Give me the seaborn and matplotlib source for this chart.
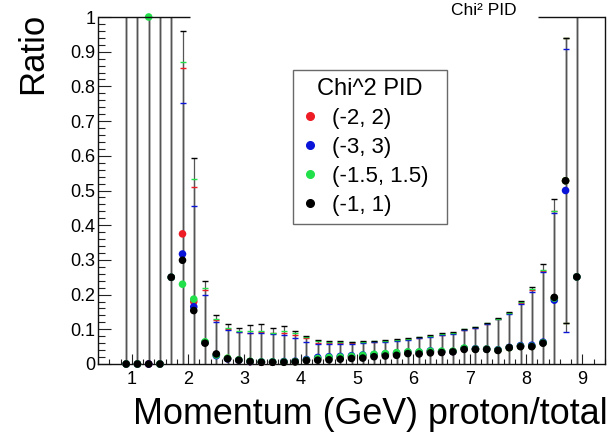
import numpy as np
import pandas as pd
import matplotlib
matplotlib.use("Agg")
import matplotlib.pyplot as plt
from matplotlib.lines import Line2D
from matplotlib.ticker import MultipleLocator, FixedLocator, FixedFormatter
import seaborn as sns

# ---------------- data ----------------
momentum = [0.9, 1.1, 1.3, 1.5, 1.7, 1.9, 2.1, 2.3, 2.5, 2.7, 2.9, 3.1, 3.3, 3.5,
            3.7, 3.9, 4.1, 4.3, 4.5, 4.7, 4.9, 5.1, 5.3, 5.5, 5.7, 5.9, 6.1, 6.3,
            6.5, 6.7, 6.9, 7.1, 7.3, 7.5, 7.7, 7.9, 8.1, 8.3, 8.5, 8.7, 8.9]

series_names = ["(-2, 2)", "(-3, 3)", "(-1.5, 1.5)", "(-1, 1)"]
series_colors = ["#ee1c25", "#0a14d8", "#22e04a", "#000000"]

ratio_2 = [0, 0, 0, 0, 0.25, 0.375, 0.18, 0.062, 0.027, 0.016, 0.011, 0.007, 0.005, 0.005,
           0.006, 0.007, 0.011, 0.015, 0.017, 0.018, 0.020, 0.022, 0.025, 0.027, 0.029, 0.033,
           0.032, 0.035, 0.035, 0.036, 0.044, 0.043, 0.043, 0.040, 0.047, 0.051, 0.051, 0.061,
           0.190, 0.528, 0.251]
ratio_3 = [0, 0, 0, 0, 0.25, 0.317, 0.165, 0.062, 0.024, 0.015, 0.011, 0.007, 0.006, 0.006,
           0.007, 0.008, 0.013, 0.019, 0.021, 0.022, 0.024, 0.026, 0.027, 0.029, 0.031, 0.034,
           0.034, 0.038, 0.036, 0.036, 0.045, 0.044, 0.043, 0.041, 0.048, 0.053, 0.054, 0.063,
           0.184, 0.500, 0.251]
ratio_15 = [0, 0, 1.0, 0, 0.25, 0.230, 0.187, 0.064, 0.026, 0.017, 0.012, 0.008, 0.006, 0.006,
            0.006, 0.007, 0.011, 0.016, 0.019, 0.020, 0.022, 0.025, 0.028, 0.030, 0.033, 0.035,
            0.035, 0.037, 0.037, 0.037, 0.046, 0.043, 0.043, 0.040, 0.047, 0.051, 0.051, 0.061,
            0.190, 0.528, 0.251]
ratio_1 = [0, 0, 0, 0, 0.25, 0.299, 0.154, 0.060, 0.029, 0.015, 0.011, 0.007, 0.005, 0.005,
           0.005, 0.006, 0.010, 0.011, 0.012, 0.014, 0.016, 0.017, 0.021, 0.023, 0.025, 0.030,
           0.029, 0.032, 0.033, 0.035, 0.042, 0.042, 0.042, 0.039, 0.047, 0.050, 0.050, 0.060,
           0.192, 0.528, 0.251]

# upper / lower ends of the error bars
upper_2 = [1, 1, 1, 1, 1, 0.854, 0.510, 0.213, 0.127, 0.100, 0.093, 0.090, 0.092, 0.088,
           0.090, 0.085, 0.074, 0.061, 0.060, 0.060, 0.060, 0.062, 0.063, 0.065, 0.068, 0.071,
           0.075, 0.080, 0.085, 0.088, 0.098, 0.104, 0.115, 0.130, 0.146, 0.175, 0.212, 0.268,
           0.440, 0.940, 1]
upper_3 = [1, 1, 1, 1, 1, 0.751, 0.456, 0.200, 0.122, 0.097, 0.092, 0.088, 0.090, 0.087,
           0.085, 0.074, 0.063, 0.058, 0.058, 0.058, 0.058, 0.060, 0.062, 0.064, 0.067, 0.070,
           0.074, 0.079, 0.084, 0.087, 0.097, 0.103, 0.114, 0.130, 0.145, 0.173, 0.208, 0.264,
           0.434, 0.908, 1]
upper_15 = [1, 1, 1, 1, 1, 0.869, 0.532, 0.218, 0.130, 0.104, 0.095, 0.095, 0.094, 0.090,
            0.096, 0.088, 0.078, 0.066, 0.063, 0.063, 0.062, 0.064, 0.065, 0.067, 0.070, 0.073,
            0.077, 0.082, 0.087, 0.090, 0.100, 0.106, 0.117, 0.131, 0.148, 0.178, 0.215, 0.270,
            0.440, 0.940, 1]
upper_1 = [1, 1, 1, 1, 1, 0.960, 0.593, 0.240, 0.141, 0.115, 0.103, 0.111, 0.114, 0.104,
           0.110, 0.096, 0.082, 0.069, 0.066, 0.066, 0.063, 0.066, 0.066, 0.069, 0.071, 0.074,
           0.078, 0.083, 0.088, 0.091, 0.102, 0.108, 0.119, 0.134, 0.151, 0.182, 0.223, 0.287,
           0.475, 0.940, 1]
lower_2 = [0] * 39 + [0.117, 0]
lower_3 = [0] * 39 + [0.092, 0]
lower_15 = [0] * 39 + [0.117, 0]
lower_1 = [0] * 39 + [0.117, 0]

ytick_values = [0, 0.1, 0.2, 0.3, 0.4, 0.5, 0.6, 0.7, 0.8, 0.9, 1.0]
ytick_labels = ["0", "0.1", "0.2", "0.3", "0.4", "0.5", "0.6", "0.7", "0.8", "0.9", "1"]
xtick_values = [1, 2, 3, 4, 5, 6, 7, 8, 9]
xtick_labels = ["1", "2", "3", "4", "5", "6", "7", "8", "9"]
frame_top_segments = [(0.4, 2.03), (8.21, 9.4)]

values = [ratio_2, ratio_3, ratio_15, ratio_1]
uppers = [upper_2, upper_3, upper_15, upper_1]
lowers = [lower_2, lower_3, lower_15, lower_1]

rows = []
for name, v, u, l in zip(series_names, values, uppers, lowers):
    for x, yv, yu, yl in zip(momentum, v, u, l):
        rows.append({"momentum": x, "ratio": yv, "hi": yu, "lo": yl, "series": name})
df = pd.DataFrame(rows)

# ---------------- plot ----------------
sns.set_theme(style="white")
plt.rcParams["font.family"] = ["Liberation Sans", "DejaVu Sans"]
plt.rcParams["text.color"] = "black"
plt.rcParams["xtick.color"] = "black"
plt.rcParams["ytick.color"] = "black"
plt.rcParams["axes.labelcolor"] = "black"

W, H = 615, 433
fig = plt.figure(figsize=(W / 100, H / 100), dpi=100)
ax = fig.add_axes([98 / W, 1 - 364 / H, (605 - 98) / W, (364 - 17) / H])

palette = dict(zip(series_names, series_colors))

for name in series_names:
    sub = df[df.series == name]
    ax.vlines(sub.momentum, sub.lo, sub.hi, color="#555555", lw=0.9, zorder=1)
for name in series_names:
    sub = df[df.series == name]
    up = sub[sub.hi < 1]
    ax.plot(up.momentum, up.hi, ls="none", marker="_", ms=5, mew=1.0,
            color=palette[name], zorder=2)
    lo = sub[sub.lo > 0]
    ax.plot(lo.momentum, lo.lo, ls="none", marker="_", ms=5, mew=1.0,
            color=palette[name], zorder=2)

sns.scatterplot(data=df, x="momentum", y="ratio", hue="series", hue_order=series_names,
                palette=palette, s=30, linewidth=0, ax=ax, legend=False,
                clip_on=False, zorder=3)

ax.set_xlim(0.4, 9.4)
ax.set_ylim(0, 1)
ax.set_xlabel("")
ax.set_ylabel("")

for side in ["left", "bottom", "right"]:
    ax.spines[side].set_visible(True)
    ax.spines[side].set_color("#111111")
    ax.spines[side].set_linewidth(1.0)
ax.spines["top"].set_visible(False)
for x0, x1 in frame_top_segments:
    ax.hlines(1.0, x0, x1, color="#111111", lw=1.0, clip_on=False, zorder=4)

ax.yaxis.set_major_locator(FixedLocator(ytick_values))
ax.yaxis.set_major_formatter(FixedFormatter(ytick_labels))
ax.yaxis.set_minor_locator(MultipleLocator(0.02))
ax.xaxis.set_major_locator(FixedLocator(xtick_values))
ax.xaxis.set_major_formatter(FixedFormatter(xtick_labels))
ax.xaxis.set_minor_locator(MultipleLocator(0.2))

ax.tick_params(axis="y", which="major", direction="in", length=9.4, width=0.8,
               labelsize=13, pad=2, color="#222222", labelcolor="black",
               left=True, right=False)
ax.tick_params(axis="y", which="minor", direction="in", length=4.7, width=0.8,
               color="#222222", left=True, right=False)
ax.tick_params(axis="x", which="major", direction="in", length=7.5, width=0.8,
               labelsize=13, pad=5, color="#222222", labelcolor="black",
               bottom=True, top=False)
ax.tick_params(axis="x", which="minor", direction="in", length=3.7, width=0.8,
               color="#222222", bottom=True, top=False)

fig.text(33 / W, 1 - 13 / H, "Ratio", rotation=90, ha="center", va="top", fontsize=25)
fig.text(608 / W, 1 - 424 / H, "Momentum (GeV) proton/total", ha="right",
         va="baseline", fontsize=25.8)
fig.text(484 / W, 1 - 15 / H, "Chi\u00b2 PID", ha="center", va="baseline", fontsize=12.5)

handles = [Line2D([], [], ls="none", marker="o", color=c, markersize=5.5)
           for c in series_colors]
leg = ax.legend(handles, series_names, title="Chi^2 PID", loc="upper left",
                bbox_to_anchor=(293 / W, 1 - 220 / H, (447 - 293) / W, (220 - 70) / H),
                bbox_transform=fig.transFigure, mode="expand", frameon=True,
                fancybox=False, fontsize=16, title_fontsize=17, handlelength=0.8,
                handletextpad=0.6, labelspacing=0.36, borderpad=0.35, borderaxespad=0)
leg.get_frame().set_edgecolor("#444444")
leg.get_frame().set_linewidth(1.0)
leg.set_zorder(10)

fig.savefig("out.png", dpi=100)
